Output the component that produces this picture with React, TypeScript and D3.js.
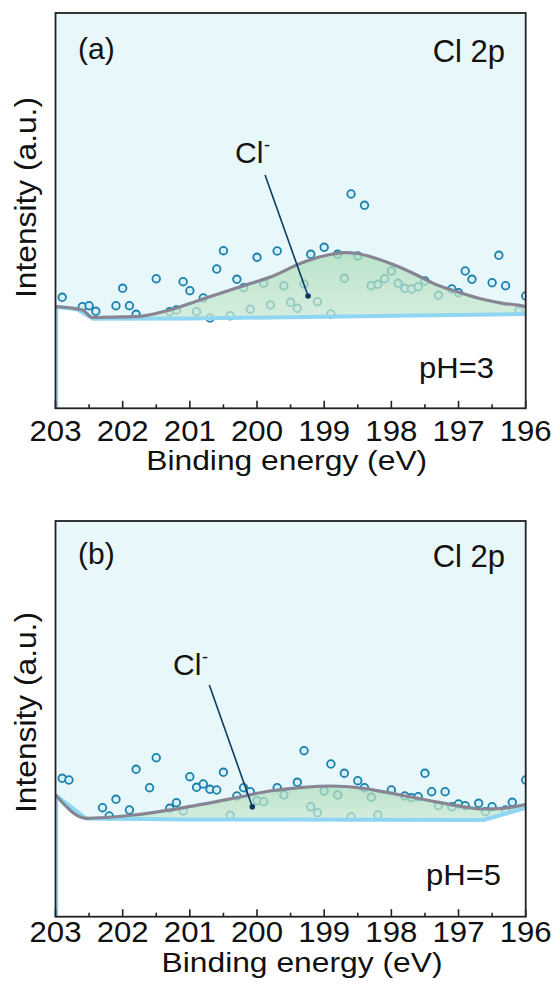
import React from "react";
import * as d3 from "d3";

const W = 553;
const H = 986;
const X_LEFT = 55.5;
const X_RIGHT = 525.7;
const FONT = "'Liberation Sans', Arial, Helvetica, sans-serif";

const ENERGY_DOMAIN = [203, 196];
const MAJOR_TICKS = [203, 202, 201, 200, 199, 198, 197, 196];
const MINOR_TICKS = [202.5, 201.5, 200.5, 199.5, 198.5, 197.5, 196.5];

// ---- Panel (a) pH = 3 ----
const pointsA_eV = [202.9, 202.6, 202.5, 202.4, 202.1, 202.0, 201.9, 201.8, 201.5, 201.3, 201.2, 201.1, 201.0, 200.9, 200.8, 200.7, 200.6, 200.5, 200.4, 200.3, 200.2, 200.1, 200.0, 199.9, 199.8, 199.7, 199.6, 199.5, 199.4, 199.3, 199.2, 199.1, 199.0, 198.9, 198.8, 198.7, 198.6, 198.5, 198.4, 198.3, 198.2, 198.1, 198.0, 197.9, 197.8, 197.7, 197.6, 197.5, 197.3, 197.1, 197.0, 196.9, 196.8, 196.5, 196.4, 196.3, 196.1, 196.0];
const pointsA_int = [111, 101.6, 102.6, 97, 102.6, 120, 102.6, 94, 129.6, 96.6, 98.3, 126.6, 117.6, 96.6, 110.3, 90.3, 139.3, 157.6, 92.6, 129, 120.6, 99, 151, 125, 103.3, 157.3, 122.6, 106, 100, 124.3, 154, 106.6, 161, 94.3, 154, 130, 214.3, 152.3, 203, 122.6, 124, 129.6, 137.3, 125, 120, 119.3, 121.6, 127.3, 113, 119.3, 115.6, 137.3, 129, 125.6, 153, 122.6, 97.6, 112.3];
const envA_eV = [203.0, 202.6, 202.45, 201.8, 201.3, 200.85, 200.25, 199.8, 199.3, 198.87, 198.69, 198.51, 198.32, 197.92, 197.57, 197.32, 197.02, 196.64, 196.34, 196.04, 196.0];
const envA_int = [101.6, 98.3, 90.8, 91.6, 98.3, 108.3, 121.6, 131.3, 146.3, 154.3, 155.6, 154.8, 151.8, 142.3, 131.6, 123.3, 116.6, 109, 105, 102.3, 101.6];
const baseA_eV = [203.0, 202.68, 202.44, 201.0, 199.0, 196.0];
const baseA_int = [101.6, 99, 89.5, 89.8, 91.6, 94.3];
const leaderA_eV = [199.88, 199.24];
const leaderA_int = [233.3, 112.3];

// ---- Panel (b) pH = 5 ----
const pointsB_eV = [202.9, 202.8, 202.3, 202.2, 202.1, 201.9, 201.8, 201.6, 201.5, 201.3, 201.2, 201.1, 201.0, 200.9, 200.8, 200.7, 200.6, 200.5, 200.4, 200.3, 200.2, 200.1, 200.0, 199.9, 199.7, 199.6, 199.4, 199.3, 199.2, 199.1, 199.0, 198.9, 198.8, 198.7, 198.6, 198.5, 198.4, 198.3, 198.2, 198.0, 197.8, 197.7, 197.6, 197.5, 197.4, 197.3, 197.2, 197.1, 197.0, 196.9, 196.7, 196.6, 196.5, 196.3, 196.2, 196.0];
const pointsB_int = [138.4, 136.7, 109, 100.7, 117.4, 106.7, 147.4, 129, 159, 108.4, 114, 105.7, 140, 129.4, 132.7, 127.4, 126.7, 144.4, 101.4, 120.7, 129, 125, 116, 115, 129, 121.7, 134.4, 166, 110, 104, 125.7, 152.7, 121.7, 143.4, 100, 136, 129, 119.4, 101.7, 126.7, 120.7, 119, 120, 143.4, 125, 111, 125, 110, 112.7, 111, 113.4, 105, 110, 106.7, 114.4, 136.7];
const envB_eV = [203.0, 202.54, 201.84, 201.15, 200.35, 199.81, 199.31, 198.91, 198.42, 197.92, 197.42, 197.03, 196.63, 196.33, 196.04, 196.0];
const envB_int = [121.7, 98.4, 101.7, 108.4, 118.4, 125.7, 129.4, 130.7, 128.4, 122.4, 116, 111, 107.7, 108.4, 111.7, 112.2];
const baseB_eV = [203.0, 202.54, 201.0, 196.63, 196.0];
const baseB_int = [121.7, 98.2, 97.2, 96.7, 108.7];
const leaderB_eV = [200.71, 200.07];
const leaderB_int = [231.7, 110];

type PanelProps = {
  id: string;
  top: number;
  bottom: number;
  ptsE: number[];
  ptsI: number[];
  envE: number[];
  envI: number[];
  baseE: number[];
  baseI: number[];
  leadE: number[];
  leadI: number[];
  letter: string;
  ph: string;
  letterY: number;
  tagY: number;
  clX: number;
  clY: number;
  phX: number;
  phY: number;
  tickY: number;
  titleX: number;
  titleY: number;
  yLabelC: number;
};

function Panel(p: PanelProps) {
  const x = d3.scaleLinear().domain(ENERGY_DOMAIN).range([X_LEFT, X_RIGHT]);
  const y = d3.scaleLinear().domain([0, p.bottom - p.top]).range([p.bottom, p.top]);
  const env = p.envE.map((e, i) => [e, p.envI[i]] as [number, number]);
  const base = p.baseE.map((e, i) => [e, p.baseI[i]] as [number, number]);
  const envLine = d3
    .line<[number, number]>()
    .x((d) => x(d[0]))
    .y((d) => y(d[1]))
    .curve(d3.curveMonotoneX);
  const baseLine = d3
    .line<[number, number]>()
    .x((d) => x(d[0]))
    .y((d) => y(d[1]));
  const envD = envLine(env) as string;
  const baseD = baseLine(base) as string;
  const baseRevD = baseLine(base.slice().reverse()) as string;
  const greenD = envD + baseRevD.replace(/^M/, "L") + "Z";
  const bgD = `M${X_LEFT},${p.top}L${X_RIGHT},${p.top}` + baseRevD.replace(/^M/, "L") + "Z";
  const pts = p.ptsE.map((e, i) => ({ e, v: p.ptsI[i] }));
  const gid = `green-${p.id}`;
  const cid = `clip-${p.id}`;
  const lx1 = x(p.leadE[0]);
  const ly1 = y(p.leadI[0]);
  const lx2 = x(p.leadE[1]);
  const ly2 = y(p.leadI[1]);

  return (
    <g>
      <defs>
        <linearGradient id={gid} x1="0" y1="0" x2="0" y2="1">
          <stop offset="0%" stopColor="#acdcb9" />
          <stop offset="100%" stopColor="#cde9d2" />
        </linearGradient>
        <clipPath id={cid}>
          <rect x={X_LEFT} y={p.top} width={X_RIGHT - X_LEFT} height={p.bottom - p.top} />
        </clipPath>
      </defs>
      <g clipPath={`url(#${cid})`}>
        <path d={bgD} fill="#e8f7f9" />
        {pts.map((d, i) => (
          <circle
            key={i}
            cx={x(d.e)}
            cy={y(d.v)}
            r={3.8}
            fill="#d6f1f8"
            stroke="#1a80ad"
            strokeWidth={1.8}
          />
        ))}
        <path d={greenD} fill={`url(#${gid})`} opacity={0.72} />
        <line x1={X_LEFT + 1.8} x2={X_LEFT + 1.8} y1={y(base[0][1])} y2={p.bottom} stroke="#8fd6f2" strokeWidth={2} />
        <path d={baseD} fill="none" stroke="#8fd6f2" strokeWidth={4} strokeLinejoin="round" />
        <path d={envD} fill="none" stroke="#788c9a" strokeWidth={3.2} strokeLinejoin="round" />
        <path d={envD} fill="none" stroke="#c46b7c" strokeWidth={0.9} opacity={0.65} />
        <line x1={lx1} y1={ly1} x2={lx2} y2={ly2} stroke="#0c3a63" strokeWidth={1.6} />
        <circle cx={lx2} cy={ly2} r={2.8} fill="#0c3a63" />
      </g>
      <rect
        x={X_LEFT}
        y={p.top}
        width={X_RIGHT - X_LEFT}
        height={p.bottom - p.top}
        fill="none"
        stroke="#222"
        strokeWidth={1.8}
      />
      {MAJOR_TICKS.map((t) => (
        <line key={`M${t}`} x1={x(t)} x2={x(t)} y1={p.bottom} y2={p.bottom - 7.5} stroke="#222" strokeWidth={1.6} />
      ))}
      {MINOR_TICKS.map((t) => (
        <line key={`m${t}`} x1={x(t)} x2={x(t)} y1={p.bottom} y2={p.bottom - 4} stroke="#222" strokeWidth={1.6} />
      ))}
      <g fontFamily={FONT} fill="#111">
        {MAJOR_TICKS.map((t) => (
          <text
            key={`l${t}`}
            x={x(t)}
            y={p.tickY}
            fontSize={29}
            textAnchor="middle"
            textLength={52}
            lengthAdjust="spacingAndGlyphs"
          >
            {String(t)}
          </text>
        ))}
        <text x={p.titleX} y={p.titleY} fontSize={28.5} textAnchor="middle" textLength={281} lengthAdjust="spacingAndGlyphs">
          Binding energy (eV)
        </text>
        <text
          transform={`translate(36,${p.yLabelC}) rotate(-90)`}
          fontSize={30}
          textAnchor="middle"
          textLength={201}
          lengthAdjust="spacingAndGlyphs"
        >
          Intensity (a.u.)
        </text>
        <text x={78} y={p.letterY} fontSize={30}>
          {p.letter}
        </text>
        <text x={505} y={p.tagY} fontSize={31} textAnchor="end">
          Cl 2p
        </text>
        <text x={p.clX} y={p.clY} fontSize={30}>
          Cl
        </text>
        <text x={p.clX + 29} y={p.clY - 12} fontSize={18}>
          -
        </text>
        <text x={p.phX} y={p.phY} fontSize={29} textLength={75} lengthAdjust="spacingAndGlyphs">
          {p.ph}
        </text>
      </g>
    </g>
  );
}

export default function App() {
  return (
    <svg
      width={W}
      height={H}
      viewBox={`0 0 ${W} ${H}`}
      style={{ position: "absolute", left: 0, top: 0, background: "#ffffff" }}
    >
      <rect x={0} y={0} width={W} height={H} fill="#ffffff" />
      <Panel
        id="a"
        top={13}
        bottom={408.3}
        ptsE={pointsA_eV}
        ptsI={pointsA_int}
        envE={envA_eV}
        envI={envA_int}
        baseE={baseA_eV}
        baseI={baseA_int}
        leadE={leaderA_eV}
        leadI={leaderA_int}
        letter="(a)"
        ph="pH=3"
        letterY={58.5}
        tagY={61.5}
        clX={235}
        clY={163}
        phX={419}
        phY={378}
        tickY={440.7}
        titleX={286.7}
        titleY={470}
        yLabelC={197.5}
      />
      <Panel
        id="b"
        top={521}
        bottom={916.7}
        ptsE={pointsB_eV}
        ptsI={pointsB_int}
        envE={envB_eV}
        envI={envB_int}
        baseE={baseB_eV}
        baseI={baseB_int}
        leadE={leaderB_eV}
        leadI={leaderB_int}
        letter="(b)"
        ph="pH=5"
        letterY={563.5}
        tagY={567}
        clX={173}
        clY={674.5}
        phX={426}
        phY={885.3}
        tickY={941.7}
        titleX={302}
        titleY={972}
        yLabelC={712.5}
      />
    </svg>
  );
}
